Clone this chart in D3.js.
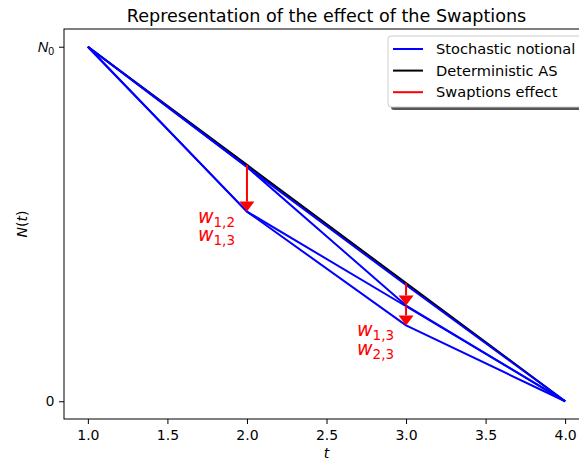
<!DOCTYPE html>
<html>
<head>
<meta charset="utf-8">
<script src="https://cdn.jsdelivr.net/npm/d3@7"></script>
<style>
  html, body { margin: 0; padding: 0; background: #fff; }
  svg { display: block; font-family: "DejaVu Sans", sans-serif; }
</style>
</head>
<body>
<svg id="chart" width="579" height="461"></svg>
<script>
// Payment dates and the amortising notional along them
const times = [1, 2, 3, 4];
const deterministicAS = [1, 2 / 3, 1 / 3, 0];

// Simulated notional paths (fraction of N0)
const pathNoExercise   = [1, 0.661, 0.328, 0];
const pathLateExercise = [1, 0.661, 0.270, 0];
const pathEarlyOnce    = [1, 0.535, 0.268, 0];
const pathEarlyTwice   = [1, 0.535, 0.214, 0];
const stochasticPaths = [pathNoExercise, pathLateExercise, pathEarlyOnce, pathEarlyTwice];

// Swaption exercise jumps: date, notional before, notional after
const jumpTimes = [2, 3, 3];
const jumpFrom  = [2 / 3, 1 / 3, 0.270];
const jumpTo    = [0.535, 0.270, 0.214];

// Exercise labels
const labelTimes = [2, 3];
const labelLevels = [0.535, 0.214];
const labelSubs = [["1,2", "1,3"], ["1,3", "2,3"]];

const xTicks = [1.0, 1.5, 2.0, 2.5, 3.0, 3.5, 4.0];
const yTicks = [0, 1];

const legendItems = [
  { label: "Stochastic notional", color: "#0000ff" },
  { label: "Deterministic AS", color: "#000000" },
  { label: "Swaptions effect", color: "#ff0000" }
];

const svg = d3.select("#chart");
const plot = { left: 64, right: 589, top: 29, bottom: 419 };

const x = d3.scaleLinear().domain([0.85, 4.15]).range([plot.left, plot.right]);
const y = d3.scaleLinear().domain([-0.05, 1.05]).range([plot.bottom, plot.top]);

const line = d3.line().x((d, i) => x(times[i])).y(d => y(d));

// Deterministic schedule underneath
svg.append("path")
  .attr("d", line(deterministicAS))
  .attr("fill", "none")
  .attr("stroke", "#000")
  .attr("stroke-width", 2)
  .attr("stroke-linejoin", "round");

// Stochastic paths
svg.selectAll("path.stoch")
  .data(stochasticPaths)
  .join("path")
  .attr("class", "stoch")
  .attr("d", d => line(d))
  .attr("fill", "none")
  .attr("stroke", "#0000ff")
  .attr("stroke-width", 2)
  .attr("stroke-linejoin", "round");

// Swaption arrows
const headLen = 10, headHalf = 7.5;
jumpTimes.forEach((t, i) => {
  const px = x(t), y0 = y(jumpFrom[i]), y1 = y(jumpTo[i]);
  svg.append("line")
    .attr("x1", px).attr("x2", px)
    .attr("y1", y0).attr("y2", y1 - headLen)
    .attr("stroke", "#ff0000").attr("stroke-width", 2);
  svg.append("path")
    .attr("d", `M${px - headHalf},${y1 - headLen}L${px + headHalf},${y1 - headLen}L${px},${y1}Z`)
    .attr("fill", "#ff0000");
});

// Exercise labels (two stacked w with subscripts in one text block)
labelTimes.forEach((t, i) => {
  const px = x(t) - 49, base = y(labelLevels[i]) + 11;
  const txt = svg.append("text")
    .attr("x", px).attr("y", base)
    .attr("fill", "#ff0000")
    .attr("font-size", 19);
  labelSubs[i].forEach((sub, j) => {
    txt.append("tspan").attr("font-style", "italic")
      .attr("x", px).attr("y", base + j * 18.5).text("w");
    txt.append("tspan").attr("font-size", 13.5).attr("dy", 4).text(sub);
  });
});

// Axes
const xAxis = d3.axisBottom(x).tickValues(xTicks).tickFormat(d3.format(".1f")).tickSize(5).tickPadding(6);
const gx = svg.append("g").attr("transform", `translate(0,${plot.bottom})`).call(xAxis);
gx.select(".domain").remove();
gx.selectAll("text").attr("font-size", 14).attr("font-family", "DejaVu Sans").attr("fill", "#000");
gx.selectAll("line").attr("stroke", "#000").attr("stroke-width", 1);

const yAxis = d3.axisLeft(y).tickValues(yTicks).tickFormat(() => "").tickSize(5);
const gy = svg.append("g").attr("transform", `translate(${plot.left},0)`).call(yAxis);
gy.select(".domain").remove();
gy.selectAll("line").attr("stroke", "#000").attr("stroke-width", 1);
gy.selectAll(".tick text").each(function (d) {
  const t = d3.select(this).attr("font-size", 14.5).attr("fill", "#000").attr("x", -10);
  if (d === 1) {
    t.append("tspan").attr("font-style", "italic").text("N");
    t.append("tspan").attr("font-size", 10.5).attr("dy", 3).text("0");
  } else {
    t.text("0");
  }
});

// Frame (right edge falls outside the view)
svg.append("rect")
  .attr("x", plot.left).attr("y", plot.top)
  .attr("width", plot.right - plot.left).attr("height", plot.bottom - plot.top)
  .attr("fill", "none").attr("stroke", "#000").attr("stroke-width", 1);

// Axis labels and title
svg.append("text")
  .attr("x", (plot.left + plot.right) / 2).attr("y", 458)
  .attr("text-anchor", "middle").attr("font-size", 14).attr("font-style", "italic")
  .text("t");

const yl = svg.append("text")
  .attr("transform", `translate(27,${(plot.top + plot.bottom) / 2}) rotate(-90)`)
  .attr("text-anchor", "middle").attr("font-size", 14);
yl.append("tspan").attr("font-style", "italic").text("N");
yl.append("tspan").text("(");
yl.append("tspan").attr("font-style", "italic").text("t");
yl.append("tspan").text(")");

svg.append("text")
  .attr("x", (plot.left + plot.right) / 2).attr("y", 22)
  .attr("text-anchor", "middle").attr("font-size", 17.6)
  .text("Representation of the effect of the Swaptions");

// Legend with drop shadow
const lg = { x: 388, y: 36, w: 194, h: 71 };
svg.append("rect")
  .attr("x", lg.x + 3).attr("y", lg.y + 3).attr("width", lg.w).attr("height", lg.h)
  .attr("rx", 3).attr("fill", "#555");
svg.append("rect")
  .attr("x", lg.x).attr("y", lg.y).attr("width", lg.w).attr("height", lg.h)
  .attr("rx", 3).attr("fill", "#fff").attr("stroke", "#ccc").attr("stroke-width", 1);
legendItems.forEach((it, i) => {
  const cy = 49 + i * 21.6;
  svg.append("line")
    .attr("x1", 393).attr("x2", 423).attr("y1", cy).attr("y2", cy)
    .attr("stroke", it.color).attr("stroke-width", 2);
  svg.append("text")
    .attr("x", 436).attr("y", cy + 5)
    .attr("font-size", 14.6).attr("fill", "#000")
    .text(it.label);
});
</script>
</body>
</html>
